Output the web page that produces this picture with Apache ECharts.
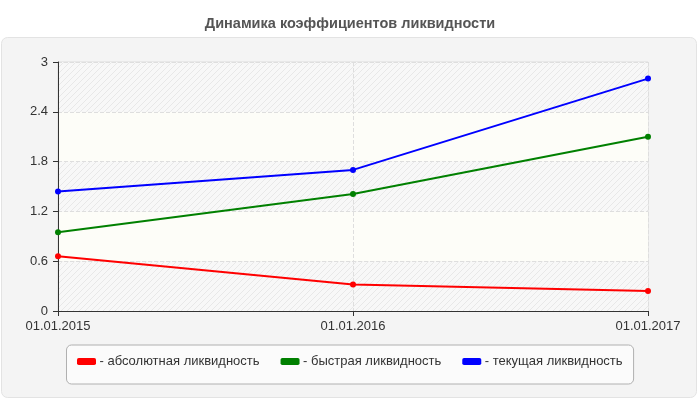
<!DOCTYPE html>
<html>
<head>
<meta charset="utf-8">
<script src="https://cdn.jsdelivr.net/npm/echarts@6/dist/echarts.min.js"></script>
<style>
  html, body { margin: 0; padding: 0; background: #fff; }
  #chart { width: 700px; height: 400px; }
</style>
</head>
<body>
<div id="chart"></div>
<script>
// chart data
const dates = ["01.01.2015", "01.01.2016", "01.01.2017"];
const absoluteLiq = [0.66, 0.32, 0.24];
const quickLiq = [0.95, 1.41, 2.10];
const currentLiq = [1.44, 1.70, 2.80];
const seriesNames = ["- абсолютная ликвидность", "- быстрая ликвидность", "- текущая ликвидность"];

// diagonal hatch used for every other band of the plot area
function makeHatch() {
  const c = document.createElement("canvas");
  c.width = 6;
  c.height = 6;
  const ctx = c.getContext("2d");
  ctx.fillStyle = "#f8f8f8";
  ctx.fillRect(0, 0, 6, 6);
  ctx.strokeStyle = "#e8e8e8";
  ctx.lineWidth = 1;
  ctx.beginPath();
  ctx.moveTo(0, 6);
  ctx.lineTo(6, 0);
  ctx.moveTo(-3, 3);
  ctx.lineTo(3, -3);
  ctx.moveTo(3, 9);
  ctx.lineTo(9, 3);
  ctx.stroke();
  return c;
}

const chart = echarts.init(document.getElementById("chart"));

const lineSeries = (name, data, color) => ({
  name: name,
  type: "line",
  data: data,
  symbol: "circle",
  symbolSize: 6,
  lineStyle: { color: color, width: 2 },
  itemStyle: { color: color },
  z: 5
});

chart.setOption({
  animation: false,
  textStyle: { fontFamily: "Liberation Sans, Arial, sans-serif" },
  title: {
    text: "Динамика коэффициентов ликвидности",
    left: "center",
    top: 11,
    textStyle: { fontSize: 14.5, fontWeight: "bold", color: "#555" }
  },
  graphic: [{
    type: "rect",
    z: -10,
    shape: { x: 1.5, y: 37.5, width: 695, height: 360, r: 6 },
    style: { fill: "#f4f4f4", stroke: "#e3e3e3", lineWidth: 1 }
  }],
  grid: {
    left: 58,
    right: 52,
    top: 62,
    bottom: 89,
    show: true,
    borderColor: "#dcdcdc",
    borderWidth: 1,
    backgroundColor: "transparent"
  },
  legend: {
    left: 66.5,
    top: 345,
    data: seriesNames,
    itemWidth: 19,
    itemHeight: 7,
    itemGap: 21,
    padding: [10, 11, 16, 10.5],
    backgroundColor: "#fbfbfb",
    borderColor: "#b0b0b0",
    borderWidth: 1,
    borderRadius: 5,
    icon: "roundRect",
    textStyle: { fontSize: 13, color: "#333", padding: [0, 0, 0, -1.5] }
  },
  xAxis: {
    type: "category",
    data: dates,
    boundaryGap: false,
    axisLine: { lineStyle: { color: "#333", width: 1 } },
    axisTick: { show: true, length: 5, lineStyle: { color: "#333" } },
    axisLabel: { fontSize: 13, color: "#333", margin: 9 },
    splitLine: { show: true, lineStyle: { color: "#dedede", type: "dashed" } }
  },
  yAxis: {
    type: "value",
    min: 0,
    max: 3,
    interval: 0.6,
    axisLine: { show: true, lineStyle: { color: "#333", width: 1 } },
    axisTick: { show: true, length: 5, lineStyle: { color: "#333" } },
    axisLabel: { fontSize: 13, color: "#333", margin: 10 },
    splitLine: { show: true, lineStyle: { color: "#dedede", type: "dashed" } },
    splitArea: {
      show: true,
      areaStyle: { color: [{ image: makeHatch(), repeat: "repeat" }, "#fdfdf8"] }
    }
  },
  series: [
    lineSeries(seriesNames[0], absoluteLiq, "#ff0000"),
    lineSeries(seriesNames[1], quickLiq, "#008000"),
    lineSeries(seriesNames[2], currentLiq, "#0000ff")
  ]
});
</script>
</body>
</html>
